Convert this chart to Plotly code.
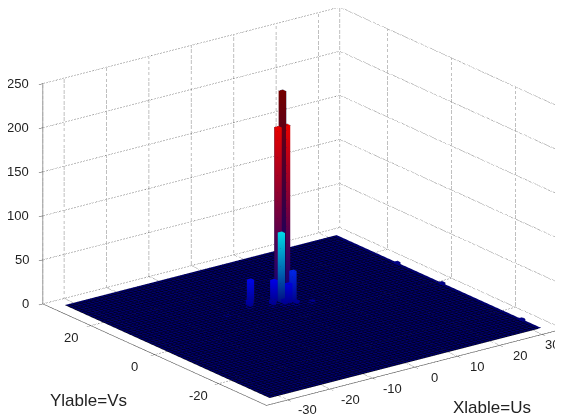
import numpy as np
import plotly.graph_objects as go

x_ticks = [-30, -20, -10, 0, 10, 20, 30]
y_ticks = [-20, 0, 20]
z_ticks = [0, 50, 100, 150, 200, 250]
x_label = "Xlable=Us"
y_label = "Ylable=Vs"

peak_u = [1, 0, 2, 0, -1, 2, 1, -5, -6, -2, 0, 2, 5, -12, 31, 31, 31]
peak_v = [8, 8, 8, 7, 8, 6, 6, 10, 9, 7, 6, 5, 4, 8, 12, -2, -27]
peak_h = [240, 200, 200, 82, 28, 38, 25, 30, 10, 8, 8, 6, 4, 2, 2, 2, 2]

grid_lo, grid_hi = -32, 32
box = 35
z_top = 250
z_color_max = 229
floor_color = "#00006c"
text_color = "#222222"

jet = [[0, "#00008f"], [0.125, "#0000ff"], [0.375, "#00ffff"], [0.625, "#ffff00"],
       [0.875, "#ff0000"], [1, "#800000"]]


def jet_rgb(val):
    t = min(max(val / z_color_max, 0), 1)
    stops = [s for s, _ in jet]
    cols = [tuple(int(c[i:i + 2], 16) for i in (1, 3, 5)) for _, c in jet]
    return "rgb(%d,%d,%d)" % tuple(np.interp(t, stops, [c[k] for c in cols]) for k in range(3))


nodes = np.arange(grid_lo, grid_hi + 1)
floor = np.zeros((nodes.size, nodes.size))

fig = go.Figure()
wire = dict(show=True, color="#000010", width=1, start=grid_lo, end=grid_hi, size=1)
fig.add_trace(go.Surface(
    x=nodes, y=nodes, z=floor, surfacecolor=floor,
    colorscale=[[0, floor_color], [1, floor_color]], cmin=0, cmax=1,
    showscale=False, hoverinfo="skip",
    lighting=dict(ambient=1, diffuse=0, specular=0, roughness=1, fresnel=0),
    contours=dict(x=wire, y=wire, z=dict(show=False)),
))

# Columns: RGB-interpolated walls from the base colour to the top colour
vx, vy, vz, vc, ti, tj, tk = [], [], [], [], [], [], []
ex, ey, ez = [], [], []
for u, v, h in sorted(zip(peak_u, peak_v, peak_h)):
    n = len(vx)
    corners = [(u, v), (u + 1, v), (u + 1, v + 1), (u, v + 1)]
    for cx, cy in corners:
        vx += [cx, cx]
        vy += [cy, cy]
        vz += [0, h]
        vc += [jet_rgb(0), jet_rgb(h)]
    for a in range(4):
        b = (a + 1) % 4
        ti += [n + 2 * a, n + 2 * a]
        tj += [n + 2 * b, n + 2 * b + 1]
        tk += [n + 2 * b + 1, n + 2 * a + 1]
    ti += [n + 1, n + 1]
    tj += [n + 3, n + 5]
    tk += [n + 5, n + 7]
    for a in [0, 1, 3]:
        cx, cy = corners[a]
        ex += [cx, cx, None]
        ey += [cy, cy, None]
        ez += [0, h, None]
    loop = corners + corners[:1]
    ex += [p[0] for p in loop] + [None]
    ey += [p[1] for p in loop] + [None]
    ez += [h] * 5 + [None]

fig.add_trace(go.Mesh3d(x=vx, y=vy, z=vz, i=ti, j=tj, k=tk, vertexcolor=vc,
                        flatshading=True, hoverinfo="skip",
                        lighting=dict(ambient=0.9, diffuse=0.2, specular=0, roughness=1, fresnel=0),
                        lightposition=dict(x=-1000, y=-3000, z=2000)))
fig.add_trace(go.Scatter3d(x=ex, y=ey, z=ez, mode="lines", hoverinfo="skip", showlegend=False,
                           line=dict(color="rgba(10,10,30,0.55)", width=1)))


def dotted(xs, ys, zs):
    fig.add_trace(go.Scatter3d(x=xs, y=ys, z=zs, mode="lines", hoverinfo="skip",
                               showlegend=False,
                               line=dict(color="#555555", width=1.5, dash="dot")))


for t in x_ticks + [-box]:
    dotted([t, t], [box, box], [0, z_top])
    dotted([t, t], [-box, box], [0, 0])
for t in y_ticks + [-box]:
    dotted([box, box], [t, t], [0, z_top])
    dotted([-box, box], [t, t], [0, 0])
dotted([box, box], [box, box], [0, z_top])
for t in z_ticks:
    dotted([-box, box], [box, box], [t, t])
    dotted([box, box], [-box, box], [t, t])

axis = dict(showgrid=False, zeroline=False, showbackground=False, showspikes=False,
            showline=True, linecolor="#444444", linewidth=1, ticks="outside",
            ticklen=5, tickcolor="#444444", showticklabels=False,
            title=dict(text=""))

tick_font = dict(family="Liberation Sans", size=13, color=text_color)


def tick_text(text, px, py, pz, dx, dy, anchor="center"):
    return dict(text=text, x=px, y=py, z=pz, showarrow=False, xshift=dx, yshift=dy,
                xanchor=anchor, font=tick_font)


labels = []
for t in x_ticks:
    labels.append(tick_text(str(t), t, -box, 0, 20 if t < x_ticks[-1] else 10, -10))
for t in y_ticks:
    labels.append(tick_text(str(t), -box, t, 0, -20, -12))
for t in z_ticks:
    labels.append(tick_text(str(t), -box, box, t, -12, 0, "right"))

fig.update_layout(
    width=563, height=416, margin=dict(l=0, r=0, t=0, b=0), paper_bgcolor="white",
    showlegend=False,
    scene=dict(
        domain=dict(x=[0, 1], y=[0, 1]),
        xaxis=dict(axis, range=[-box, box], tickvals=x_ticks),
        yaxis=dict(axis, range=[-box, box], tickvals=y_ticks),
        zaxis=dict(axis, range=[0, z_top], tickvals=z_ticks),
        aspectmode="manual", aspectratio=dict(x=1.787, y=1.787, z=1.127),
        camera=dict(projection=dict(type="orthographic"),
                    eye=dict(x=-1.152, y=-1.42, z=0.615),
                    center=dict(x=-0.052, y=0.04, z=-0.05), up=dict(x=0, y=0, z=1)),
        annotations=labels,
    ),
    annotations=[
        dict(text=y_label, x=40 / 563, y=1 - 392 / 416, xref="paper", yref="paper", showarrow=False,
             xanchor="left", yanchor="middle",
             font=dict(family="Liberation Sans", size=17, color=text_color)),
        dict(text=x_label, x=443 / 563, y=1 - 399 / 416, xref="paper", yref="paper", showarrow=False,
             xanchor="left", yanchor="middle",
             font=dict(family="Liberation Sans", size=17, color=text_color)),
    ],
)

fig.write_html("out.html")
